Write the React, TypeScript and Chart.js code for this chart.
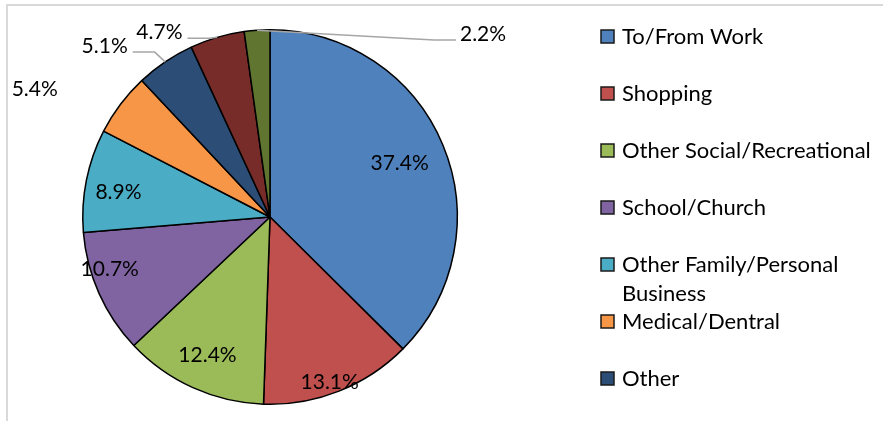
import React, { useEffect, useRef } from "react";
import { Chart, registerables } from "chart.js";

Chart.register(...registerables);

const categories = [
  "To/From Work",
  "Shopping",
  "Other Social/Recreational",
  "School/Church",
  "Other Family/Personal Business",
  "Medical/Dentral",
  "Other",
  "Visit Friends/Relatives",
  "Work-Related Business",
];
const shares = [37.4, 13.1, 12.4, 10.7, 8.9, 5.4, 5.1, 4.7, 2.2];
const sliceColors = [
  "#4F81BD",
  "#C0504D",
  "#9BBB59",
  "#8064A2",
  "#4BACC6",
  "#F79646",
  "#2C4D75",
  "#772C2A",
  "#5F7530",
];

const FONT = "Lato, 'Open Sans', sans-serif";
const LABEL_SIZE = 21;
const LEGEND_SIZE = 22;

// label placement: radius fraction, angular offset (deg), leader line?
const labelPlacement = [
  { r: 0.75, da: 0, leader: false },
  { r: 0.94, da: 1.8, leader: false },
  { r: 0.81, da: 0, leader: false },
  { r: 0.9, da: 6, leader: false },
  { r: 0.82, da: -2, leader: false },
  { r: 1.43, da: -8.5, leader: false },
  { r: 1.27, da: -10, leader: true },
  { r: 1.15, da: -14.5, leader: true },
  { r: 1.5, da: 53.3, leader: true },
];

const framePlugin = {
  id: "frame",
  beforeDraw(chart: any) {
    const ctx = chart.ctx;
    ctx.save();
    ctx.fillStyle = "#FFFFFF";
    ctx.fillRect(0, 0, chart.width, chart.height);
    ctx.strokeStyle = "#D9D9D9";
    ctx.lineWidth = 2;
    ctx.strokeRect(7, 5, 2000, 2000);
    ctx.restore();
  },
};

const sliceLabelPlugin = {
  id: "sliceLabels",
  afterDatasetsDraw(chart: any) {
    const ctx = chart.ctx;
    const meta = chart.getDatasetMeta(0);
    ctx.save();
    ctx.font = `${LABEL_SIZE}px ${FONT}`;
    ctx.textAlign = "center";
    ctx.textBaseline = "middle";
    meta.data.forEach((arc: any, i: number) => {
      const { x, y, startAngle, endAngle, outerRadius } = arc.getProps(
        ["x", "y", "startAngle", "endAngle", "outerRadius"],
        true
      );
      const mid = (startAngle + endAngle) / 2;
      const p = labelPlacement[i];
      const a = mid + (p.da * Math.PI) / 180;
      const lx = x + Math.cos(a) * outerRadius * p.r;
      const ly = y + Math.sin(a) * outerRadius * p.r;
      const text = shares[i].toFixed(1) + "%";
      ctx.fillStyle = "#000000";
      ctx.fillText(text, lx, ly);
      if (p.leader) {
        const ex = x + Math.cos(mid) * outerRadius;
        const ey = y + Math.sin(mid) * outerRadius;
        const w = ctx.measureText(text).width;
        const right = lx > ex;
        const side = right ? lx - w / 2 - 4 : lx + w / 2 + 5;
        const elbow = right ? side - 22 : side + 22;
        const ty = ly + 6;
        ctx.strokeStyle = "#A6A6A6";
        ctx.lineWidth = 1.5;
        ctx.beginPath();
        ctx.moveTo(ex, ey);
        ctx.lineTo(elbow, ty);
        ctx.lineTo(side, ty);
        ctx.stroke();
      }
    });
    ctx.restore();
  },
};

const legendPlugin = {
  id: "sideLegend",
  afterDraw(chart: any) {
    const ctx = chart.ctx;
    ctx.save();
    ctx.font = `${LEGEND_SIZE}px ${FONT}`;
    ctx.textAlign = "left";
    ctx.textBaseline = "middle";
    const boxX = 601;
    const textX = 622;
    const maxW = chart.width - textX - 4;
    categories.forEach((name, i) => {
      const cy = 37 + i * 57;
      ctx.fillStyle = sliceColors[i];
      ctx.fillRect(boxX, cy - 7, 13, 13);
      ctx.strokeStyle = "#1A1A1A";
      ctx.lineWidth = 1.5;
      ctx.strokeRect(boxX, cy - 7, 13, 13);
      const words = name.split(" ");
      const lines: string[] = [];
      let cur = "";
      words.forEach((wd) => {
        const test = cur ? cur + " " + wd : wd;
        if (ctx.measureText(test).width > maxW && cur) {
          lines.push(cur);
          cur = wd;
        } else cur = test;
      });
      if (cur) lines.push(cur);
      ctx.fillStyle = "#000000";
      lines.forEach((ln, k) => ctx.fillText(ln, textX, cy + k * 29));
    });
    ctx.restore();
  },
};

export default function App() {
  const ref = useRef<HTMLCanvasElement | null>(null);
  useEffect(() => {
    document.body.style.margin = "0";
    if (!ref.current) return;
    const chart = new Chart(ref.current, {
      type: "pie",
      data: {
        labels: categories,
        datasets: [
          {
            data: shares,
            backgroundColor: sliceColors,
            borderColor: "#000000",
            borderWidth: 1.5,
          },
        ],
      },
      options: {
        responsive: false,
        animation: false,
        layout: { padding: { left: 82, right: 425, top: 29, bottom: 16 } },
        plugins: {
          legend: { display: false },
          tooltip: { enabled: false },
        },
      },
      plugins: [framePlugin, sliceLabelPlugin, legendPlugin],
    });
    return () => chart.destroy();
  }, []);
  return (
    <div style={{ width: 883, height: 421 }}>
      <canvas ref={ref} width={883} height={421} style={{ display: "block" }} />
    </div>
  );
}
